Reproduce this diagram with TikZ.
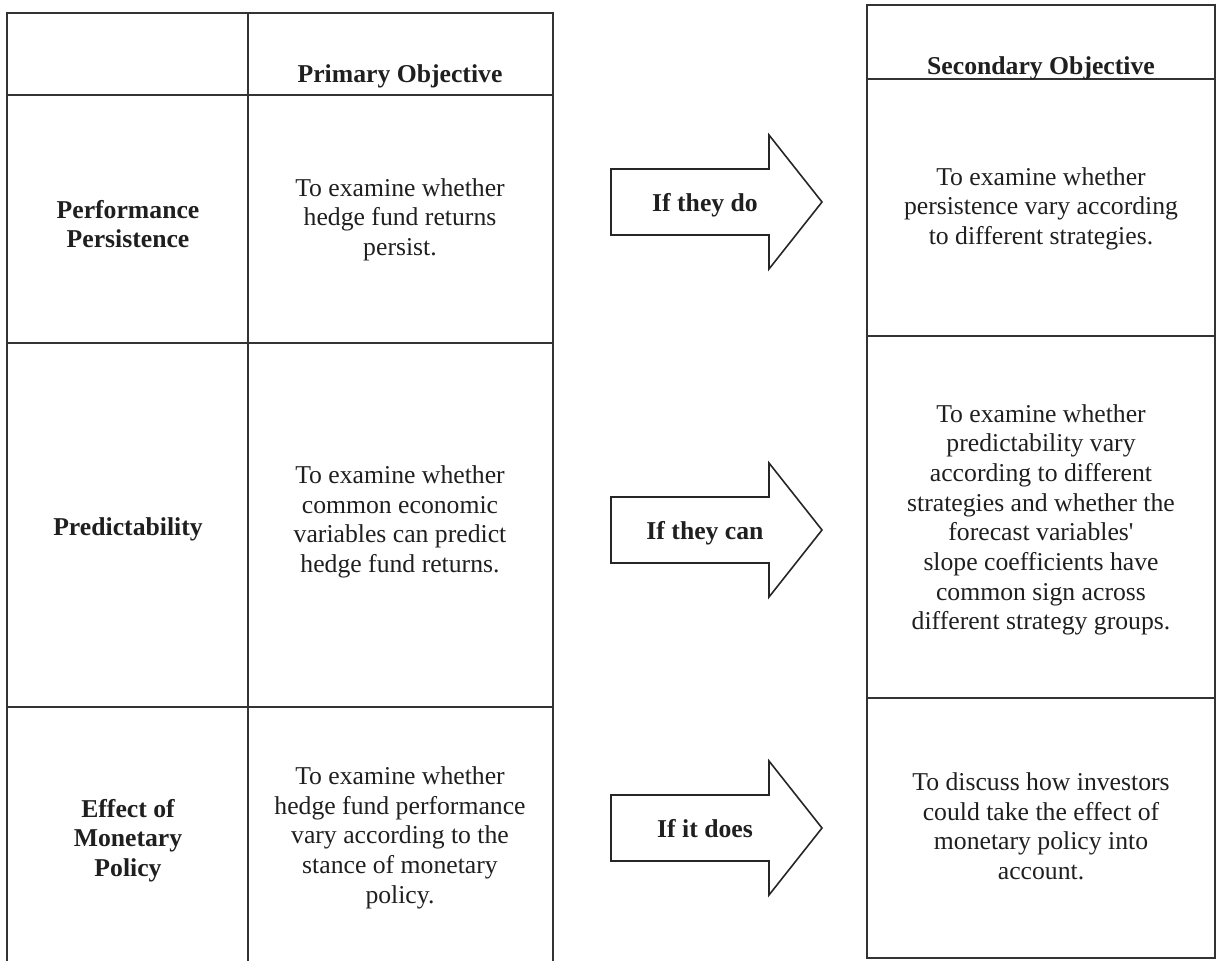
\documentclass[tikz,border=0pt]{standalone}
\usepackage{fontspec}
\setmainfont{Liberation Serif}[Ligatures=TeXOff]
\begin{document}
\begin{tikzpicture}[x=0.5pt,y=-0.5pt,
  grid/.style={draw=black!80, line width=0.8pt},
  txt/.style={align=center, inner sep=0pt, text=black!88, font=\fontsize{12.85}{14.85}\selectfont},
  hdr/.style={txt, font=\fontsize{12.85}{14.85}\selectfont\bfseries},
  arr/.style={draw=black!85, line width=0.8pt, line join=miter}]
\useasboundingbox (0,0) rectangle (1222,960);
% left table
\draw[grid] (7,13) rectangle (553,966);
\draw[grid] (248,13) -- (248,966);
\draw[grid] (7,95) -- (553,95);
\draw[grid] (7,343) -- (553,343);
\draw[grid] (7,707) -- (553,707);
% right table
\draw[grid] (867,5) rectangle (1215,958);
\draw[grid] (867,79) -- (1215,79);
\draw[grid] (867,336) -- (1215,336);
\draw[grid] (867,698) -- (1215,698);
% headers
\node[hdr] (h1) at (400,77) {\strut Primary Objective};
\node[hdr] (h2) at (1041,69) {\strut Secondary Objective};
% row 1
\node[hdr] (r1) at (128,227) {\strut Performance\\Persistence\strut};
\node[txt] (p1) at (400,220) {\strut To examine whether\\hedge fund returns\\persist.\strut};
\node[txt] (s1) at (1041,209) {\strut To examine whether\\persistence vary according\\to different strategies.\strut};
% row 2
\node[hdr] (r2) at (128,530) {\strut Predictability};
\node[txt] (p2) at (400,522) {\strut To examine whether\\common economic\\variables can predict\\hedge fund returns.\strut};
\node[txt] (s2) at (1041,520) {\strut To examine whether\\predictability vary\\according to different\\strategies and whether the\\forecast variables'\\slope coefficients have\\common sign across\\different strategy groups.\strut};
% row 3
\node[hdr] (r3) at (128,841) {\strut Effect of\\Monetary\\Policy\strut};
\node[txt] (p3) at (400,838) {\strut To examine whether\\hedge fund performance\\vary according to the\\stance of monetary\\policy.\strut};
\node[txt] (s3) at (1041,829) {\strut To discuss how investors\\could take the effect of\\monetary policy into\\account.\strut};
% arrows
\foreach \nm/\cy/\lab in {a1/202/If they do, a2/530/If they can, a3/828/If it does}{
  \draw[arr] (611,\cy-33) -- (769,\cy-33) -- (769,\cy-67) -- (822,\cy) -- (769,\cy+67) -- (769,\cy+33) -- (611,\cy+33) -- cycle;
  \node[hdr] (\nm) at (705,\cy+4) {\strut \lab};
}
\end{tikzpicture}
\end{document}
